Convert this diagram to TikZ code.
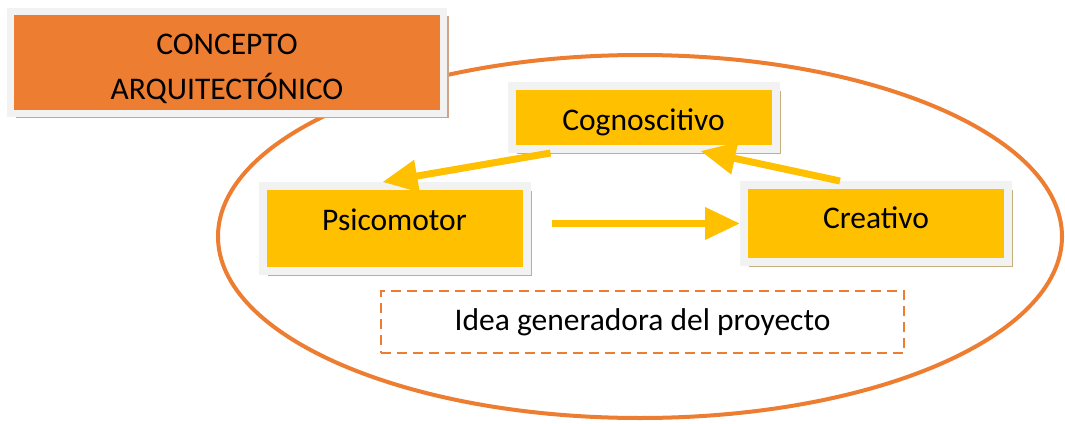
\documentclass[tikz,border=0pt]{standalone}
\usepackage{fontspec}
\setmainfont{Carlito}
\usepackage{tikz}
\usetikzlibrary{positioning}
\usetikzlibrary{shadows}
\usetikzlibrary{arrows.meta}
\definecolor{naranja}{HTML}{ED7D31}
\definecolor{amarillo}{HTML}{FFC000}
\definecolor{marco}{HTML}{F2F2F2}
\definecolor{sombra}{HTML}{C4B07E}
\definecolor{sombrados}{HTML}{CDA488}
\tikzset{
    caja/.style = {rectangle,draw=marco,line width=8pt,inner sep=0pt,
        font=\fontsize{31.5}{38}\selectfont,
        drop shadow={shadow xshift=5pt,shadow yshift=-5pt,fill=sombra,opacity=1}},
    etapa/.style = {caja,fill=amarillo,minimum width=264pt,text height=22pt},
    titulo/.style = {caja,fill=naranja,line width=7pt,align=center,
        font=\fontsize{31.5}{45}\selectfont,
        drop shadow={shadow xshift=5pt,shadow yshift=-5pt,fill=sombrados,opacity=1}},
    idea/.style = {rectangle,draw=naranja,line width=2pt,dash pattern=on 10pt off 6pt,
        inner sep=0pt,font=\fontsize{31.5}{38}\selectfont},
    flecha/.style = {draw=amarillo,line width=7pt,
        -{Triangle[length=35pt,width=31pt]}},
    contorno/.style = {draw=naranja,line width=4pt}}

\begin{document}
\begin{tikzpicture}[x=1pt,y=-1pt]
        \useasboundingbox (0,0) rectangle (1065,423);
        \draw[contorno] (640,236.5) ellipse [x radius=422pt, y radius=181.5pt];
        \node[titulo,minimum width=433pt,minimum height=102pt] (concepto) at (227,62)
            {\rule{0pt}{35pt}CONCEPTO\\ARQUITECT\'ONICO};
        \node[etapa,minimum height=63pt,text height=25pt,text depth=0pt] (cog) at (643.5,117.5) {Cognoscitivo};
        \node[etapa,minimum height=85pt,text depth=19pt] (psi) at (394.5,228.5) {Psicomotor};
        \node[etapa,minimum height=77pt,text depth=13pt] (cre) at (876,223.5) {Creativo};
        \node[idea,minimum width=523pt,minimum height=62pt] (gen) at (642.5,322)
            {Idea generadora del proyecto};
        \coordinate (psiR) at ([xshift=21pt]psi.east);
        \draw[flecha] ([xshift=43pt]cog.south west) -- ([xshift=-12pt]psi.north);
        \draw[flecha] ([xshift=-36pt]cre.north) -- ([xshift=57pt,yshift=2pt]cog.south);
        \draw[flecha] (psiR |- cre.west) -- (cre.west);
\end{tikzpicture}
\end{document}
